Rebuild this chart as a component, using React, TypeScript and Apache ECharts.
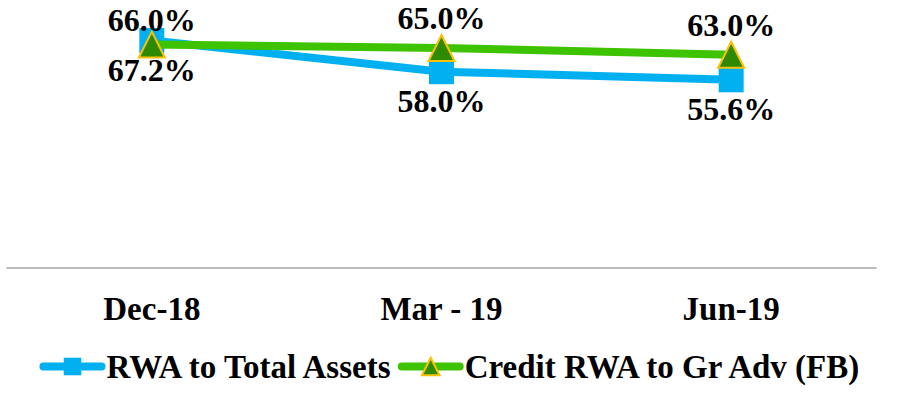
import React, { useEffect, useRef } from "react";
import * as echarts from "echarts";

const categories = ["Dec-18", "Mar - 19", "Jun-19"];
const rwaToTotalAssets = [67.2, 58.0, 55.6];
const creditRwaToGrAdv = [66.0, 65.0, 63.0];
const seriesNames = ["RWA to Total Assets", "Credit RWA to Gr Adv (FB)"];

const FONT = "Liberation Serif";

export default function App() {
  const ref = useRef<HTMLDivElement>(null);
  useEffect(() => {
    if (!ref.current) return;
    const chart = echarts.init(ref.current, null, { renderer: "svg" });
    const labelStyle = {
      show: true,
      fontFamily: FONT,
      fontWeight: "bold" as const,
      fontSize: 32,
      lineHeight: 26,
      color: "#000",
      formatter: (p: any) => Number(p.value).toFixed(1) + "%",
    };
    chart.setOption({
      animation: false,
      backgroundColor: "#fff",
      grid: { left: 7, right: 27, top: 4, bottom: 133, containLabel: false },
      legend: {
        bottom: 13,
        left: "center",
        itemWidth: 58,
        itemHeight: 22,
        itemGap: 3,
        textStyle: { fontFamily: FONT, fontWeight: "bold", fontSize: 33, color: "#000" },
        data: [
          { name: seriesNames[0], lineStyle: { width: 8, cap: "round" } },
          { name: seriesNames[1], lineStyle: { width: 8, cap: "round" } },
        ],
      },
      xAxis: {
        type: "category",
        data: categories,
        boundaryGap: true,
        axisLine: { show: true, lineStyle: { color: "#A6A6A6", width: 1.5 } },
        axisTick: { show: false },
        axisLabel: { fontFamily: FONT, fontWeight: "bold", fontSize: 33, color: "#000", margin: 24 },
      },
      yAxis: {
        type: "value",
        min: 0,
        max: 78,
        show: false,
        splitLine: { show: false },
      },
      series: [
        {
          name: seriesNames[0],
          type: "line",
          data: rwaToTotalAssets,
          symbol: "rect",
          symbolSize: 25,
          lineStyle: { color: "#00B0F0", width: 8 },
          itemStyle: { color: "#00B0F0" },
          label: { ...labelStyle, position: "bottom", distance: 4 },
          z: 2,
        },
        {
          name: seriesNames[1],
          type: "line",
          data: creditRwaToGrAdv.map((v, i) =>
            i === 0 ? { value: v, label: { offset: [0, 5] } } : v
          ),
          symbol: "triangle",
          symbolSize: 26,
          lineStyle: { color: "#3EC300", width: 8 },
          itemStyle: { color: "#2E8A00", borderColor: "#FFC000", borderWidth: 2 },
          label: { ...labelStyle, position: "top", distance: 3 },
          z: 3,
        },
      ],
    });
    return () => chart.dispose();
  }, []);
  return (
    <div
      ref={ref}
      style={{ position: "absolute", left: 0, top: 0, width: 903, height: 401 }}
    />
  );
}
